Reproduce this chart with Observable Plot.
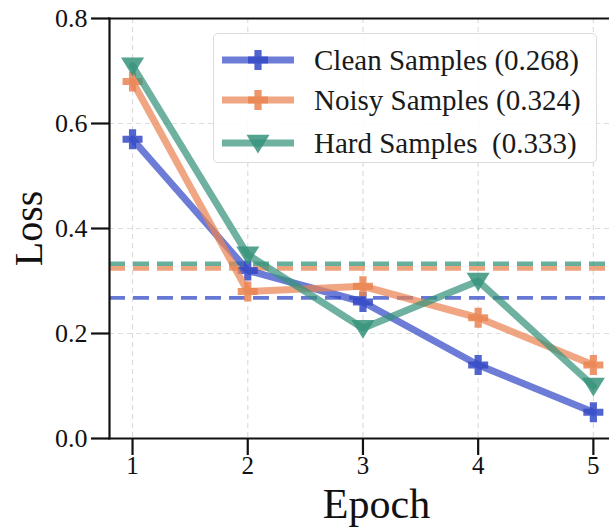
<!DOCTYPE html>
<html>
<head>
<meta charset="utf-8">
<script src="https://cdn.jsdelivr.net/npm/d3@7"></script>
<script src="https://cdn.jsdelivr.net/npm/@observablehq/plot@0.6"></script>
<style>
  body { margin: 0; background: white; }
  #wrap { position: relative; width: 609px; height: 529px; overflow: hidden; font-family: "Liberation Serif", "Times New Roman", Times, serif; }
  #legend { position: absolute; left: 213px; top: 33px; width: 384px; height: 130px; border: 1px solid #dcdcdc; border-radius: 5px; background: rgba(255,255,255,0.85); box-sizing: border-box; }
  .row { position: absolute; left: 0; height: 40px; display: flex; align-items: center; }
  .row svg { margin-left: 8px; }
  .row span { margin-left: 20px; font-size: 29px; color: #1a1a1a; white-space: pre; }
</style>
</head>
<body>
<div id="wrap"></div>
<script>
// ---- data ----
const epochs = [1, 2, 3, 4, 5];
const seriesNames = ["Clean Samples", "Noisy Samples", "Hard Samples"];
const cleanLoss = [0.57, 0.32, 0.26, 0.14, 0.05];
const noisyLoss = [0.68, 0.28, 0.29, 0.23, 0.14];
const hardLoss  = [0.71, 0.35, 0.21, 0.30, 0.10];
const meanLoss  = [0.268, 0.324, 0.333];
const legendLabels = ["Clean Samples (0.268)", "Noisy Samples (0.324)", "Hard Samples  (0.333)"];
const yTicks = [0, 0.2, 0.4, 0.6, 0.8];
const colors = ["#3449c6", "#ea8452", "#36937b"];

// ---- symbols ----
const plusSym = {
  draw(ctx, size) {
    const r = Math.sqrt(size / Math.PI), w = r * 0.36;
    ctx.moveTo(-w, -r); ctx.lineTo(w, -r); ctx.lineTo(w, -w); ctx.lineTo(r, -w);
    ctx.lineTo(r, w); ctx.lineTo(w, w); ctx.lineTo(w, r); ctx.lineTo(-w, r);
    ctx.lineTo(-w, w); ctx.lineTo(-r, w); ctx.lineTo(-r, -w); ctx.lineTo(-w, -w);
    ctx.closePath();
  }
};
const triDown = {
  draw(ctx, size) {
    const r = Math.sqrt(size / Math.PI);
    ctx.moveTo(-r * 1.05, -r * 0.75); ctx.lineTo(r * 1.05, -r * 0.75); ctx.lineTo(0, r * 0.95);
    ctx.closePath();
  }
};
const symbols = [plusSym, plusSym, triDown];
const symbolR = [10, 10, 11];

const losses = [cleanLoss, noisyLoss, hardLoss];
const rows = seriesNames.map((s, i) => epochs.map((e, j) => ({series: s, epoch: e, loss: losses[i][j]})));
const meanRows = seriesNames.map((s, i) => ({series: s, mean: meanLoss[i]}));

const font = '"Liberation Serif", "Times New Roman", Times, serif';
const chart = Plot.plot({
  width: 609, height: 529,
  marginLeft: 109, marginRight: 0, marginTop: 18, marginBottom: 91,
  style: {fontFamily: font, background: "white", color: "#111"},
  x: {domain: [0.8, 5.14]},
  y: {domain: [0, 0.8]},
  marks: [
    Plot.gridX(epochs, {stroke: "#aaa", strokeOpacity: 0.4, strokeDasharray: "5,4", strokeWidth: 1.2}),
    Plot.gridY([0.2, 0.4, 0.6], {stroke: "#aaa", strokeOpacity: 0.4, strokeDasharray: "5,4", strokeWidth: 1.2}),
    ...meanRows.map((m, i) => Plot.ruleY([m], {y: "mean", stroke: colors[i], strokeOpacity: 0.75, strokeWidth: i === 0 ? 3.8 : 4.6, strokeDasharray: "16,8"})),
    ...rows.flatMap((r, i) => [
      Plot.line(r, {x: "epoch", y: "loss", stroke: colors[i], strokeOpacity: 0.72, strokeWidth: 7}),
      Plot.dot(r, {x: "epoch", y: "loss", fill: colors[i], fillOpacity: 0.85, symbol: symbols[i], r: symbolR[i]})
    ]),
    Plot.frame({anchor: "left", stroke: "#111", strokeWidth: 2.2}),
    Plot.frame({anchor: "bottom", stroke: "#111", strokeWidth: 2.2}),
    Plot.frame({anchor: "top", stroke: "#111", strokeWidth: 2.2}),
    Plot.axisY({ticks: yTicks, tickFormat: ".1f", tickSize: 18, tickPadding: 4, fontSize: 26, strokeWidth: 2.2, label: null}),
    Plot.axisX({ticks: epochs, tickFormat: "d", tickSize: 17, tickPadding: 1, fontSize: 25, strokeWidth: 2.2, label: null}),
    Plot.text(["Loss"], {frameAnchor: "left", textAnchor: "middle", lineAnchor: "middle", rotate: -90, dx: -80, fontSize: 40, fill: "#111"}),
    Plot.text(["Epoch"], {frameAnchor: "bottom", textAnchor: "middle", lineAnchor: "middle", dx: 17, dy: 66, fontSize: 42, fill: "#111"})
  ]
});

const wrap = document.getElementById("wrap");
wrap.appendChild(chart);

// ---- legend ----
const legend = document.createElement("div");
legend.id = "legend";
const rowCenters = [26, 66, 109];
seriesNames.forEach((s, i) => {
  const row = document.createElement("div");
  row.className = "row";
  row.style.top = (rowCenters[i] - 20) + "px";
  const svg = d3.create("svg").attr("width", 72).attr("height", 26);
  svg.append("line").attr("x1", 0).attr("x2", 72).attr("y1", 13).attr("y2", 13)
    .attr("stroke", colors[i]).attr("stroke-opacity", 0.72).attr("stroke-width", 7);
  const p = d3.path();
  symbols[i].draw(p, Math.PI * symbolR[i] * symbolR[i]);
  svg.append("path").attr("d", p.toString()).attr("transform", "translate(36,13)")
    .attr("fill", colors[i]).attr("fill-opacity", 0.85);
  row.appendChild(svg.node());
  const span = document.createElement("span");
  span.textContent = legendLabels[i];
  row.appendChild(span);
  legend.appendChild(row);
});
wrap.appendChild(legend);
</script>
</body>
</html>
